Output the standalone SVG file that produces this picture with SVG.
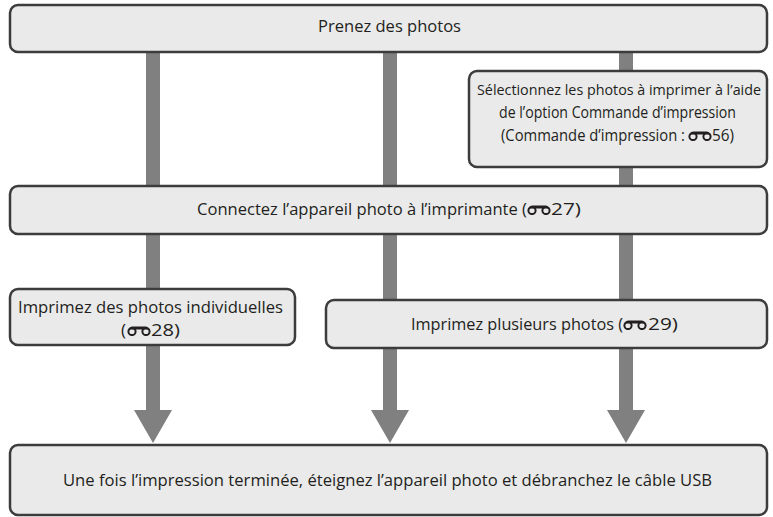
<svg xmlns="http://www.w3.org/2000/svg" xmlns:xlink="http://www.w3.org/1999/xlink" width="773" height="517" viewBox="0 0 773 517">
<defs>
<style>
.box{fill:#eaeaea;stroke:#3c3c3c;stroke-width:2.5}
.t{font-family:"Open Sans","Noto Sans","Liberation Sans",sans-serif;font-size:17px;fill:#231f20}
.s{font-size:16px}
.xs{font-size:15px}
.bar{fill:#808080}
</style>
<symbol id="ref" viewBox="0 0 24 11">
<circle cx="5" cy="6.5" r="3.6" fill="none" stroke="#231f20" stroke-width="2"/>
<circle cx="19" cy="6.5" r="3.6" fill="none" stroke="#231f20" stroke-width="2"/>
<path d="M1.8,5.5 C2,2.5 3.5,1.5 5.5,1.5 L18.5,1.5 C19.5,1.5 20.5,2 21,3 L21,4.6 L3,4.6 Z" fill="#231f20"/>
</symbol>
</defs>
<rect width="773" height="517" fill="#ffffff"/>
<g id="connectors">
<polygon class="bar" points="146,52 160,52 160,410 172,410 153,443 134,410 146,410"/>
<polygon class="bar" points="383,52 397,52 397,410 409,410 390,443 371,410 383,410"/>
<polygon class="bar" points="619,52 633,52 633,410 645,410 626,443 607,410 619,410"/>
</g>
<g id="n1">
<rect class="box" x="10" y="5" width="757" height="47" rx="8"/>
<text class="t" x="318" y="32" textLength="143" lengthAdjust="spacingAndGlyphs">Prenez des photos</text>
</g>
<g id="n2">
<rect class="box" x="469" y="71" width="298" height="96" rx="8"/>
<text class="t xs" x="477" y="95" textLength="284" lengthAdjust="spacingAndGlyphs">Sélectionnez les photos à imprimer à l’aide</text>
<text class="t s" x="499" y="118" textLength="237" lengthAdjust="spacingAndGlyphs">de l’option Commande d’impression</text>
<text class="t s" x="501" y="141" textLength="184" lengthAdjust="spacingAndGlyphs">(Commande d’impression :</text>
<use xlink:href="#ref" x="688" y="130" width="24" height="11"/>
<text class="t s" x="712" y="141" textLength="22" lengthAdjust="spacingAndGlyphs">56)</text>
</g>
<g id="n3">
<rect class="box" x="10" y="186" width="757" height="48" rx="8"/>
<text class="t" x="197" y="215" textLength="330" lengthAdjust="spacingAndGlyphs">Connectez l’appareil photo à l’imprimante (</text>
<use xlink:href="#ref" x="527" y="204" width="24" height="11"/>
<text class="t" x="551" y="215" textLength="30" lengthAdjust="spacingAndGlyphs">27)</text>
</g>
<g id="n4">
<rect class="box" x="10" y="289" width="285" height="56" rx="8"/>
<text class="t" x="18" y="313" textLength="265" lengthAdjust="spacingAndGlyphs">Imprimez des photos individuelles</text>
<text class="t" x="121" y="336">(</text>
<use xlink:href="#ref" x="127" y="325" width="24" height="11"/>
<text class="t" x="151" y="336" textLength="29" lengthAdjust="spacingAndGlyphs">28)</text>
</g>
<g id="n5">
<rect class="box" x="326" y="300" width="441" height="48" rx="8"/>
<text class="t" x="411" y="330" textLength="212" lengthAdjust="spacingAndGlyphs">Imprimez plusieurs photos (</text>
<use xlink:href="#ref" x="623" y="319" width="24" height="11"/>
<text class="t" x="648" y="330" textLength="30" lengthAdjust="spacingAndGlyphs">29)</text>
</g>
<g id="n6">
<rect class="box" x="10" y="445" width="757" height="70" rx="8"/>
<text class="t" x="63" y="486" textLength="649" lengthAdjust="spacingAndGlyphs">Une fois l’impression terminée, éteignez l’appareil photo et débranchez le câble USB</text>
</g>
</svg>
